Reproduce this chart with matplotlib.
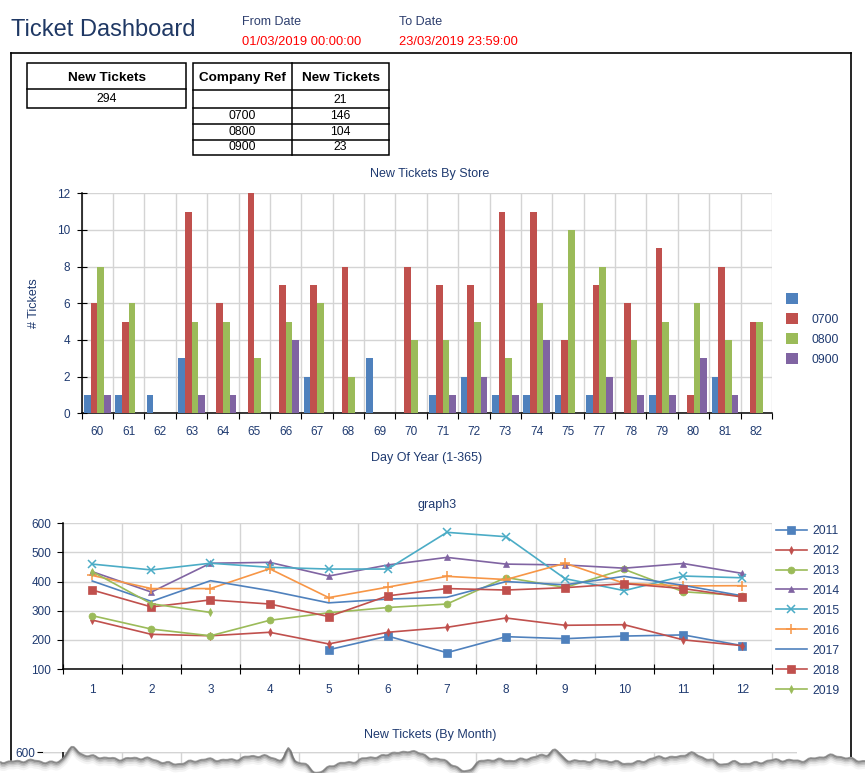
import numpy as np
import matplotlib
matplotlib.use("Agg")
import matplotlib.pyplot as plt
from matplotlib.patches import Rectangle, Polygon

# ---------------- data ----------------
days = ["60", "61", "62", "63", "64", "65", "66", "67", "68", "69", "70",
        "71", "72", "73", "74", "75", "77", "78", "79", "80", "81", "82"]
store_names = ["", "0700", "0800", "0900"]
store_blank = [1, 1, 1, 3, 0, 0, 0, 2, 0, 3, 0, 1, 2, 1, 1, 1, 1, 0, 1, 0, 2, 0]
store_0700 = [6, 5, 0, 11, 6, 12, 7, 7, 8, 0, 8, 7, 7, 11, 11, 4, 7, 6, 9, 1, 8, 5]
store_0800 = [8, 6, 0, 5, 5, 3, 5, 6, 2, 0, 4, 4, 5, 3, 6, 10, 8, 4, 5, 6, 4, 5]
store_0900 = [1, 0, 0, 1, 1, 0, 4, 0, 0, 0, 0, 1, 2, 1, 4, 0, 2, 1, 1, 3, 1, 0]

months = ["1", "2", "3", "4", "5", "6", "7", "8", "9", "10", "11", "12"]
y2011 = [None, None, None, None, 166, 213, 156, 211, 204, 213, 217, 180]
y2012 = [268, 219, 214, 226, 186, 226, 243, 275, 250, 252, 200, 180]
y2013 = [283, 237, 214, 267, 293, 311, 323, 414, 380, 442, 365, 352]
y2014 = [434, 364, 463, 466, 419, 457, 483, 460, 457, 446, 462, 428]
y2015 = [460, 440, 463, 449, 443, 443, 569, 554, 410, 369, 419, 413]
y2016 = [421, 376, 376, 444, 345, 381, 418, 407, 463, 394, 385, 386]
y2017 = [402, 332, 403, 369, 327, 340, 346, 400, 389, 418, 387, 351]
y2018 = [371, 313, 337, 323, 280, 351, 376, 371, 379, 393, 376, 347]
y2019 = [434, 324, 294, None, None, None, None, None, None, None, None, None]
years = ["2011", "2012", "2013", "2014", "2015", "2016", "2017", "2018", "2019"]

total_label = "New Tickets"
total_value = "294"
table_cols = ["Company Ref", "New Tickets"]
table_refs = ["", "0700", "0800", "0900"]
table_counts = ["21", "146", "104", "23"]

# ---------------- style ----------------
W, H = 865, 773
NAVY = "#1F3A70"
GRID = "#D4D4D4"
c_blue, c_red, c_green, c_purple = "#4F81BD", "#C0504D", "#9BBB59", "#8064A2"
c_cyan, c_orange = "#4BACC6", "#F79646"
plt.rcParams["font.family"] = ["Liberation Sans", "DejaVu Sans"]

TICK_FS = 8.5
LAB_FS = 9
LEG_FS = 8.7

fig = plt.figure(figsize=(W / 100, H / 100), dpi=100)
fig.patch.set_facecolor("white")


def fax(x0, y0, x1, y1, **kw):
    return fig.add_axes([x0 / W, 1 - y1 / H, (x1 - x0) / W, (y1 - y0) / H], **kw)


# overlay for header / tables / frame
ov = fig.add_axes([0, 0, 1, 1], zorder=0)
ov.set_xlim(0, W)
ov.set_ylim(H, 0)
ov.axis("off")
ov.patch.set_alpha(0)

ov.text(11, 35.7, "Ticket Dashboard", fontsize=17, color="#1F3864",
        va="baseline", ha="left")
ov.text(242, 25, "From Date", fontsize=9, color="#2E3F6E", va="baseline")
ov.text(242, 45, "01/03/2019 00:00:00", fontsize=9.3, color="#FF0000", va="baseline")
ov.text(399, 25, "To Date", fontsize=9, color="#2E3F6E", va="baseline")
ov.text(399, 45, "23/03/2019 23:59:00", fontsize=9.3, color="#FF0000", va="baseline")

# frame
ov.plot([10.5, 851], [52.5, 52.5], color="black", lw=1.2)
ov.plot([10.5, 10.5], [52.5, H], color="black", lw=1.2)
ov.plot([851, 851], [52.5, H], color="black", lw=1.2)

# table 1
ov.add_patch(Rectangle((27, 63.3), 159.3, 45, fill=False, ec="black", lw=1.1))
ov.plot([27, 186.3], [89.3, 89.3], color="black", lw=1.1)
ov.text(106.7, 81, total_label, fontsize=9.7, weight="bold", ha="center", va="baseline")
ov.text(106.7, 101.7, total_value, fontsize=8.8, ha="center", va="baseline")

# table 2
row_y = [90.3, 107.7, 123.7, 139.7, 155]
ov.add_patch(Rectangle((193.3, 63.3), 196, 91.7, fill=False, ec="black", lw=1.1))
ov.plot([291.7, 291.7], [63.3, 155], color="black", lw=1.1)
for yy in row_y[:-1]:
    ov.plot([193.3, 389.3], [yy, yy], color="black", lw=1.1)
ov.text(242.5, 81, table_cols[0], fontsize=9.7, weight="bold", ha="center", va="baseline")
ov.text(340.5, 81, table_cols[1], fontsize=9.7, weight="bold", ha="center", va="baseline")
for i, (r, c) in enumerate(zip(table_refs, table_counts)):
    yb = row_y[i + 1] - 4.5
    ov.text(242.5, yb, r, fontsize=8.8, ha="center", va="baseline")
    ov.text(340.5, yb, c, fontsize=8.8, ha="center", va="baseline")

# ---------------- bar chart ----------------
ax = fax(81.7, 193.3, 772, 413.3, zorder=2)
x = np.arange(len(days))
bw = 0.2125
series = [store_blank, store_0700, store_0800, store_0900]
colors = [c_blue, c_red, c_green, c_purple]
handles = []
for k, (vals, col) in enumerate(zip(series, colors)):
    b = ax.bar(x + (k - 1.5) * bw, vals, width=bw, color=col, zorder=3,
               edgecolor="none", label=store_names[k])
    handles.append(b)
ax.set_xlim(-0.5, len(days) - 0.5)
ax.set_ylim(0, 12)
ax.set_yticks(range(0, 13, 2))
ax.set_xticks(np.arange(len(days) + 1) - 0.5)
ax.set_xticklabels([])
ax.set_xticks(x, minor=True)
ax.set_xticklabels(days, minor=True)
ax.tick_params(axis="x", which="minor", length=0, pad=9, labelsize=TICK_FS, labelcolor=NAVY)
ax.tick_params(axis="x", which="major", length=4, direction="out", color="black")
ax.tick_params(axis="y", length=7.2, direction="inout", labelsize=TICK_FS,
               labelcolor=NAVY, pad=4.8)
ax.grid(True, which="major", color=GRID, lw=1, zorder=0)
ax.set_axisbelow(True)
for s in ["top", "right"]:
    ax.spines[s].set_visible(False)
ax.spines["left"].set_linewidth(1.1)
ax.spines["bottom"].set_linewidth(1.1)
ax.set_title("New Tickets By Store", fontsize=LAB_FS, color=NAVY, pad=11.5,
             x=(430 - 81.7) / (772 - 81.7))
ax.set_ylabel("# Tickets", fontsize=LAB_FS, color=NAVY)
ax.yaxis.set_label_coords((40 - 81.7) / (772 - 81.7), 0.5)
ax.set_xlabel("Day Of Year (1-365)", fontsize=LAB_FS, color=NAVY, labelpad=10.5)
leg = ax.legend(handles=handles, labels=store_names, loc="center left",
                bbox_to_anchor=((781 - 81.7) / (772 - 81.7), (413.3 - 329.5) / 220),
                frameon=False, fontsize=LEG_FS,
                handlelength=1.0, handleheight=1.0, handletextpad=1.16,
                labelspacing=0.62, borderaxespad=0)
for t in leg.get_texts():
    t.set_color(NAVY)

# ---------------- line chart ----------------
X0, X1 = 62.7, 772
lx = fax(X0, 523.3, X1, 669, zorder=2)
mx = np.arange(len(months))
line_data = [y2011, y2012, y2013, y2014, y2015, y2016, y2017, y2018, y2019]
line_cols = [c_blue, c_red, c_green, c_purple, c_cyan, c_orange, c_blue, c_red, c_green]
markers = ["s", "d", "o", "^", "x", "+", None, "s", "d"]
msizes = [5.5, 4, 5, 5, 5.5, 6.5, 0, 6, 4]
lhandles = []
for vals, col, mk, ms, yr in zip(line_data, line_cols, markers, msizes, years):
    arr = np.array([np.nan if v is None else v for v in vals], dtype=float)
    ln, = lx.plot(mx, arr, color=col, lw=1.2, marker=mk, markersize=ms,
                  markeredgewidth=1.1 if mk in ("x", "+") else 0.5, label=yr, zorder=3)
    lhandles.append(ln)
lx.set_xlim(-0.5, len(months) - 0.5)
lx.set_ylim(100, 600)
lx.set_yticks(range(100, 601, 100))
lx.set_xticks(np.arange(len(months) + 1) - 0.5)
lx.set_xticklabels([])
lx.set_xticks(mx, minor=True)
lx.set_xticklabels(months, minor=True)
lx.tick_params(axis="x", which="minor", length=0, pad=10.5, labelsize=TICK_FS, labelcolor=NAVY)
lx.tick_params(axis="x", which="major", length=7.2, direction="inout", color="black")
lx.tick_params(axis="y", length=4.3, labelsize=TICK_FS, labelcolor=NAVY, pad=4)
lx.grid(True, which="major", color=GRID, lw=1, zorder=0)
lx.set_axisbelow(True)
for s in ["top", "right"]:
    lx.spines[s].set_visible(False)
lx.spines["left"].set_linewidth(1.1)
lx.spines["bottom"].set_linewidth(1.1)
lx.set_title("graph3", fontsize=LAB_FS, color=NAVY, pad=11, x=(437 - X0) / (X1 - X0))
lleg = lx.legend(handles=lhandles, loc="upper left",
                 bbox_to_anchor=((771 - X0) / (X1 - X0), 1.023),
                 frameon=False, fontsize=LEG_FS, handlelength=2.56, handletextpad=0.47,
                 labelspacing=0.66, borderaxespad=0)
for t in lleg.get_texts():
    t.set_color(NAVY)

# ---------------- third chart (cut off) ----------------
bx = fax(X0 - 20, 752.3, X1 + 25, H, zorder=2)
span = (X1 - X0) / 12
bx.set_xlim(-0.5 - 20 / span, 11.5 + 25 / span)
bx.set_ylim(600 - (H - 752.3) / 0.2914, 600)
bx.set_yticks([600])
bx.set_xticks(np.arange(13) - 0.5)
bx.set_xticklabels([])
bx.grid(True, color=GRID, lw=1)
bx.axhline(600, color=GRID, lw=1)
for s in ["top", "right", "bottom", "left"]:
    bx.spines[s].set_visible(False)
bx.tick_params(axis="x", length=0)
bx.tick_params(axis="y", length=4.3, labelsize=TICK_FS, labelcolor=NAVY, pad=1)
bx.axvline(-0.5, color="black", lw=1.1)
bx.set_title("New Tickets (By Month)", fontsize=LAB_FS, color=NAVY, pad=10.5,
             x=(430 - (X0 - 20)) / (X1 + 25 - (X0 - 20)))

# torn edge
top = fig.add_axes([0, 0, 1, 1], zorder=10)
top.set_xlim(0, W)
top.set_ylim(H, 0)
top.axis("off")
top.patch.set_alpha(0)
xs = np.linspace(0, W, 400)
edge = (759 + 2.5 * np.sin(xs / 23.0) + 1.6 * np.sin(xs / 9.1 + 1.3)
        + 0.9 * np.sin(xs / 3.1 + 0.4) + 0.6 * np.sin(xs / 1.7)
        - 12 * np.exp(-((xs - 72) / 9) ** 2) - 13 * np.exp(-((xs - 289) / 4) ** 2)
        - 6 * np.exp(-((xs - 395) / 8) ** 2) - 8 * np.exp(-((xs - 412) / 10) ** 2)
        - 7 * np.exp(-((xs - 555) / 6) ** 2) - 6 * np.exp(-((xs - 690) / 9) ** 2)
        + 12 * np.exp(-((xs - 318) / 12) ** 2) + 8 * np.exp(-((xs - 465) / 10) ** 2)
        + 6 * np.exp(-((xs - 720) / 10) ** 2))
poly = np.vstack([np.column_stack([xs, edge]), [[W, H + 5], [0, H + 5]]])
top.add_patch(Polygon(poly, closed=True, fc="white", ec="none"))
for off, a, lw in [(6, 0.06, 4), (4.5, 0.10, 3), (3, 0.18, 2.5), (1.8, 0.3, 2), (0.8, 0.5, 1.4)]:
    top.plot(xs, edge + off, color="#505050", alpha=a, lw=lw, solid_capstyle="butt")

fig.savefig("out.png", dpi=100, facecolor="white")
